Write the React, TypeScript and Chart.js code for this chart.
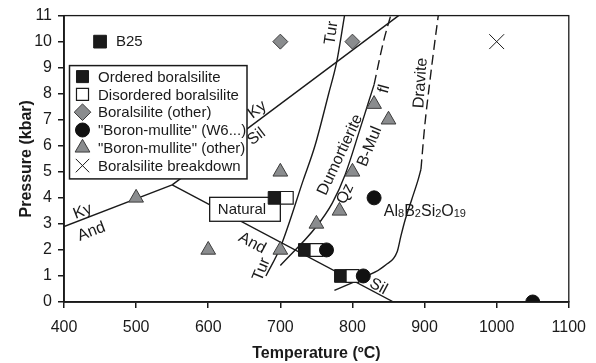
import React, { useEffect, useRef } from "react";
import { Chart, registerables } from "chart.js";
import { drawPoint } from "chart.js/helpers";

Chart.register(...registerables);

const FONT = "'Liberation Sans', Arial, Helvetica, sans-serif";

// ---- Data (Temperature °C, Pressure kbar) ----
const orderedT = [450, 692, 734, 784];
const orderedP = [10, 4, 2, 1];
const disorderedT = [709, 750, 800];
const disorderedP = [4, 2, 1];
const boralOtherT = [700, 800];
const boralOtherP = [10, 10];
const bmW6T = [764, 815, 830, 1050];
const bmW6P = [2, 1, 4, 0];
const bmOtherT = [500, 600, 700, 700, 750, 782, 800, 830, 850];
const bmOtherP = [4, 2, 2, 5, 3, 3.5, 5, 7.6, 7];
const breakdownT = [1000];
const breakdownP = [10];

// phase boundaries
const kyAndT = [400, 550];
const kyAndP = [2.9, 4.5];
const kySilT = [550, 864];
const kySilP = [4.5, 11];
const andSilT = [550, 857];
const andSilP = [4.5, 0];
const turT = [680, 700, 732, 748, 767, 778, 789];
const turP = [1, 2.1, 4.7, 6, 8, 9.2, 11];
const dumT = [700, 750, 772, 790, 810, 830];
const dumP = [1.4, 2.9, 3.8, 4.9, 6.6, 8.35];
const dumFlT = [830, 843, 853];
const dumFlP = [8.35, 10, 11];
const shortT = [775, 805];
const shortP = [0.45, 0.8];
const solidCurveT = [815, 823, 846, 862, 867, 873, 882, 891, 895];
const solidCurveP = [1, 1.04, 1.42, 1.93, 2.51, 3.15, 3.92, 4.69, 5.1];
const draviteT = [895, 900, 907, 914, 919];
const draviteP = [5.1, 6.7, 8.4, 9.95, 11];

const xTicksMin = 400;
const xTicksMax = 1100;
const yTicksMin = 0;
const yTicksMax = 11;

const labelTexts = ["B25", "Ky", "And", "Ky", "Sil", "And", "Sil", "Tur", "Tur", "Dumortierite", "Qz", "B-Mul", "fl", "Dravite"];
const labelT = [472, 426, 438, 668, 667, 661, 836, 771, 674, 783, 790, 824, 844, 894.5];
const labelP = [10, 3.47, 2.7, 7.38, 6.35, 2.26, 0.59, 10.33, 1.25, 5.65, 4.15, 5.97, 8.18, 8.41];
const labelAngle = [0, -21, -21, -37, -37, 28, 28, -82, -68, -65, -65, -68, -75, -86];

const naturalText = "Natural";
const naturalT = [602, 700];
const naturalP = [3.1, 4.02];

const formulaParts = [["Al", false], ["8", true], ["B", false], ["2", true], ["Si", false], ["2", true], ["O", false], ["19", true]] as [string, boolean][];
const formulaT = 843.5;
const formulaP = 3.54;

const zip = (xs: number[], ys: number[]) => xs.map((x, i) => ({ x, y: ys[i] }));

const GREY = "#8a8c8e";
const GREY_EDGE = "#3c3c3c";
const INK = "#1a1a1a";

export default function App() {
  const ref = useRef<HTMLCanvasElement | null>(null);

  useEffect(() => {
    const canvas = ref.current;
    if (!canvas) return;
    Chart.defaults.font.family = FONT;

    const markerSets: any[] = [
      { label: '"Boron-mullite" (W6...)', data: zip(bmW6T, bmW6P), pointStyle: "circle", pointRadius: 7, backgroundColor: "#111", borderColor: "#111", borderWidth: 1, legendRadius: 7 },
      { label: "Disordered boralsilite", data: zip(disorderedT, disorderedP), pointStyle: "rect", pointRadius: 9, backgroundColor: "#fff", borderColor: INK, borderWidth: 1.2, legendRadius: 8.5 },
      { label: "Ordered boralsilite", data: zip(orderedT, orderedP), pointStyle: "rect", pointRadius: 9, backgroundColor: INK, borderColor: INK, borderWidth: 1, legendRadius: 8.5 },
      { label: "Boralsilite (other)", data: zip(boralOtherT, boralOtherP), pointStyle: "rectRot", pointRadius: 7.5, backgroundColor: GREY, borderColor: GREY_EDGE, borderWidth: 1, legendRadius: 8.3 },
      { label: '"Boron-mullite" (other)', data: zip(bmOtherT, bmOtherP), pointStyle: "triangle", pointRadius: 8.5, backgroundColor: GREY, borderColor: GREY_EDGE, borderWidth: 1, legendRadius: 8.5 },
      { label: "Boralsilite breakdown", data: zip(breakdownT, breakdownP), pointStyle: "crossRot", pointRadius: 10.5, backgroundColor: INK, borderColor: INK, borderWidth: 1, legendRadius: 9.5 },
    ].map((d) => ({ ...d, type: "scatter", showLine: false, pointBorderWidth: d.borderWidth, pointBackgroundColor: d.backgroundColor, pointBorderColor: d.borderColor, pointHoverRadius: d.pointRadius }));

    const lineDs = (label: string, xs: number[], ys: number[], dashed = false, smooth = false) => ({
      label,
      type: "line",
      data: zip(xs, ys),
      showLine: true,
      pointRadius: 0,
      borderColor: INK,
      borderWidth: 1.4,
      borderDash: dashed ? [10, 5] : [],
      cubicInterpolationMode: smooth ? "monotone" : "default",
      tension: 0,
      fill: false,
    });

    const lines = [
      lineDs("Ky-And", kyAndT, kyAndP),
      lineDs("Ky-Sil", kySilT, kySilP),
      lineDs("And-Sil", andSilT, andSilP),
      lineDs("Tur", turT, turP, false, true),
      lineDs("Dum", dumT, dumP, false, true),
      lineDs("Dum fl", dumFlT, dumFlP, true, true),
      lineDs("short", shortT, shortP),
      lineDs("curve", solidCurveT, solidCurveP, false, true),
      lineDs("Dravite", draviteT, draviteP, true, true),
    ];

    const legendOrder = [2, 1, 3, 0, 4, 5];

    const annot = {
      id: "annot",
      beforeDatasetDraw(chart: any, args: any) {
        if (args.index !== 5) return;
        const ctx = chart.ctx;
        const xs = chart.scales.x, ys = chart.scales.y;
        const x0 = xs.getPixelForValue(naturalT[0]), x1 = xs.getPixelForValue(naturalT[1]);
        const y0 = ys.getPixelForValue(naturalP[1]), y1 = ys.getPixelForValue(naturalP[0]);
        ctx.save();
        ctx.fillStyle = "#fff";
        ctx.fillRect(x0, y0, x1 - x0, y1 - y0);
        ctx.strokeStyle = INK;
        ctx.lineWidth = 1.3;
        ctx.strokeRect(x0, y0, x1 - x0, y1 - y0);
        ctx.fillStyle = INK;
        ctx.font = `15px ${FONT}`;
        ctx.textAlign = "center";
        ctx.textBaseline = "middle";
        ctx.fillText(naturalText, (x0 + x1) / 2 - 3, (y0 + y1) / 2 + 1);
        ctx.restore();
      },
      afterDatasetsDraw(chart: any) {
        const ctx = chart.ctx;
        const xs = chart.scales.x, ys = chart.scales.y;
        const area = chart.chartArea;
        ctx.save();
        ctx.fillStyle = INK;
        labelTexts.forEach((t, i) => {
          const px = xs.getPixelForValue(labelT[i]);
          const py = ys.getPixelForValue(labelP[i]);
          ctx.save();
          ctx.translate(px, py);
          ctx.rotate((labelAngle[i] * Math.PI) / 180);
          ctx.font = `${i === 0 ? 15 : 16}px ${FONT}`;
          ctx.textAlign = i === 0 ? "left" : "center";
          ctx.textBaseline = "middle";
          ctx.fillText(t, 0, 0);
          ctx.restore();
        });
        let fx = xs.getPixelForValue(formulaT);
        const fy = ys.getPixelForValue(formulaP);
        ctx.textAlign = "left";
        ctx.textBaseline = "alphabetic";
        formulaParts.forEach(([s, sub]) => {
          ctx.font = sub ? `11px ${FONT}` : `16px ${FONT}`;
          ctx.fillText(s, fx, fy + (sub ? 7 : 6));
          fx += ctx.measureText(s).width;
        });
        ctx.strokeStyle = INK;
        ctx.lineWidth = 1.3;
        ctx.strokeRect(area.left, area.top, area.right - area.left, area.bottom - area.top);
        const lx = area.left + 5.5, ly = area.top + 50, lw = 177.5, lh = 113.3;
        ctx.fillStyle = "#fff";
        ctx.fillRect(lx, ly, lw, lh);
        ctx.strokeStyle = INK;
        ctx.lineWidth = 1.5;
        ctx.strokeRect(lx, ly, lw, lh);
        legendOrder.forEach((di, row) => {
          const d = chart.data.datasets[di];
          const cy = ly + 11 + row * 17.8;
          const cx = lx + 13;
          ctx.fillStyle = d.backgroundColor;
          ctx.strokeStyle = d.borderColor;
          ctx.lineWidth = d.borderWidth;
          drawPoint(ctx, { pointStyle: d.pointStyle, rotation: 0, radius: d.legendRadius, borderWidth: d.borderWidth } as any, cx, cy);
          ctx.fillStyle = INK;
          ctx.font = `15px ${FONT}`;
          ctx.textAlign = "left";
          ctx.textBaseline = "middle";
          ctx.fillText(d.label, lx + 28.5, cy + 1);
        });
        ctx.restore();
      },
    };

    const chart = new Chart(canvas, {
      type: "scatter",
      data: { datasets: [...markerSets, ...lines] as any },
      options: {
        animation: false,
        responsive: false,
        devicePixelRatio: 1,
        layout: { padding: { top: 15, right: 20, left: 0, bottom: 0 } },
        plugins: { legend: { display: false }, tooltip: { enabled: false } },
        scales: {
          x: {
            type: "linear",
            min: xTicksMin,
            max: xTicksMax,
            ticks: { stepSize: 100, color: INK, font: { size: 16, family: FONT }, padding: 10, maxRotation: 0, callback: (v: any) => String(v) },
            grid: { display: true, drawOnChartArea: false, drawTicks: true, tickLength: 6, color: INK, lineWidth: 1.5 },
            border: { display: true, color: INK, width: 1.8 },
            title: { display: true, text: "Temperature (ºC)", color: INK, font: { size: 16, weight: "bold", family: FONT }, padding: { top: 0, bottom: 0 } },
            afterFit: (s: any) => { s.height = 61; },
          },
          y: {
            type: "linear",
            min: yTicksMin,
            max: yTicksMax,
            ticks: { stepSize: 1, color: INK, font: { size: 16, family: FONT }, padding: 6, callback: (v: any) => String(v) },
            grid: { display: true, drawOnChartArea: false, drawTicks: true, tickLength: 6, color: INK, lineWidth: 1.5 },
            border: { display: true, color: INK, width: 1.8 },
            title: { display: true, text: "Pressure (kbar)", color: INK, font: { size: 16, weight: "bold", family: FONT }, padding: { top: 17, bottom: 0 } },
            afterFit: (s: any) => { s.width = 64; },
          },
        },
      } as any,
      plugins: [annot],
    });

    return () => chart.destroy();
  }, []);

  return (
    <div style={{ position: "absolute", left: 0, top: 0, width: 596, height: 363, background: "#fff" }}>
      <canvas ref={ref} width={596} height={363} style={{ display: "block" }} />
    </div>
  );
}
